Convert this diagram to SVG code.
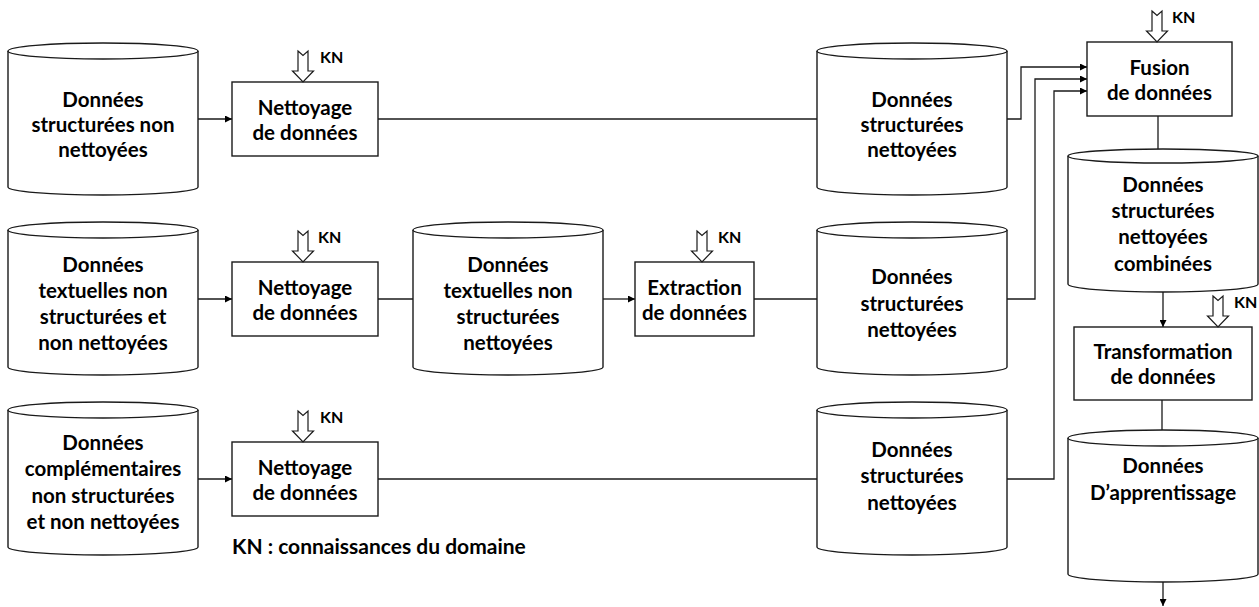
<svg xmlns="http://www.w3.org/2000/svg" width="1259" height="607" viewBox="0 0 1259 607">
  <style>
    .shape { fill: #ffffff; stroke: #1a1a1a; stroke-width: 1.4; }
    .lbl { font-family: Lato, "Liberation Sans", sans-serif; font-weight: bold; font-size: 20.5px; fill: #000; text-anchor: middle; }
    .kn { font-family: Lato, "Liberation Sans", sans-serif; font-weight: bold; font-size: 16px; fill: #000; }
    .cap { font-family: Lato, "Liberation Sans", sans-serif; font-weight: bold; font-size: 21px; fill: #000; }
    .wire { fill: none; stroke: #1a1a1a; stroke-width: 1.3; }
    .kna { fill: #ffffff; stroke: #1a1a1a; stroke-width: 1.2; stroke-linejoin: miter; }
  </style>
  <defs>
    <marker id="arr" viewBox="0 0 10 10" refX="10" refY="5" markerWidth="7" markerHeight="7" markerUnits="userSpaceOnUse" orient="auto">
      <path d="M0,0 L10,5 L0,10 Z" fill="#000"/>
    </marker>
    <!-- notched hollow arrow, tip at origin -->
    <path id="knArrow" class="kna" d="M-5,-31 L0,-26.5 L5,-31 L5,-11 L10.5,-11 L0,0 L-10.5,-11 L-5,-11 Z"/>
  </defs>

  <rect width="1259" height="607" fill="#ffffff"/>

  <!-- connectors -->
  <g id="connectors">
    <line class="wire" x1="198" y1="119" x2="232" y2="119" marker-end="url(#arr)"/>
    <line class="wire" x1="378" y1="119" x2="817" y2="119"/>
    <polyline class="wire" points="1007,119 1021,119 1021,67 1087,67" marker-end="url(#arr)"/>

    <line class="wire" x1="198" y1="299" x2="232" y2="299" marker-end="url(#arr)"/>
    <line class="wire" x1="378" y1="299" x2="413" y2="299"/>
    <line class="wire" x1="603" y1="299" x2="635" y2="299" marker-end="url(#arr)"/>
    <line class="wire" x1="754" y1="299" x2="817" y2="299"/>
    <polyline class="wire" points="1007,299 1035,299 1035,79 1087,79" marker-end="url(#arr)"/>

    <line class="wire" x1="198" y1="479" x2="232" y2="479" marker-end="url(#arr)"/>
    <line class="wire" x1="378" y1="479" x2="817" y2="479"/>
    <polyline class="wire" points="1007,479 1054,479 1054,91 1087,91" marker-end="url(#arr)"/>

    <line class="wire" x1="1158" y1="116" x2="1158" y2="150"/>
    <line class="wire" x1="1163" y1="292" x2="1163" y2="327" marker-end="url(#arr)"/>
    <line class="wire" x1="1162" y1="400" x2="1162" y2="431"/>
    <line class="wire" x1="1163" y1="582" x2="1163" y2="606" marker-end="url(#arr)"/>
  </g>

  <!-- row 1 -->
  <g id="raw-structured">
    <path class="shape" d="M8,51 L8,187 A95,8 0 0 0 198,187 L198,51"/>
    <ellipse class="shape" cx="103" cy="51" rx="95" ry="8"/>
    <text class="lbl" x="103" y="107">Données</text>
    <text class="lbl" x="103" y="132">structurées non</text>
    <text class="lbl" x="103" y="157">nettoyées</text>
  </g>
  <g id="cleaning-1">
    <rect class="shape" x="232" y="82" width="146" height="74"/>
    <text class="lbl" x="305" y="115">Nettoyage</text>
    <text class="lbl" x="305" y="140">de données</text>
    <use href="#knArrow" x="303" y="82"/>
    <text class="kn" x="320" y="63">KN</text>
  </g>
  <g id="clean-structured-1">
    <path class="shape" d="M817,51 L817,187 A95,8 0 0 0 1007,187 L1007,51"/>
    <ellipse class="shape" cx="912" cy="51" rx="95" ry="8"/>
    <text class="lbl" x="912" y="107">Données</text>
    <text class="lbl" x="912" y="132">structurées</text>
    <text class="lbl" x="912" y="157">nettoyées</text>
  </g>

  <!-- row 2 -->
  <g id="raw-text">
    <path class="shape" d="M8,230 L8,367 A95,8 0 0 0 198,367 L198,230"/>
    <ellipse class="shape" cx="103" cy="230" rx="95" ry="8"/>
    <text class="lbl" x="103" y="272">Données</text>
    <text class="lbl" x="103" y="298">textuelles non</text>
    <text class="lbl" x="103" y="324">structurées et</text>
    <text class="lbl" x="103" y="350">non nettoyées</text>
  </g>
  <g id="cleaning-2">
    <rect class="shape" x="232" y="262" width="146" height="74"/>
    <text class="lbl" x="305" y="295">Nettoyage</text>
    <text class="lbl" x="305" y="320">de données</text>
    <use href="#knArrow" x="303" y="262"/>
    <text class="kn" x="318" y="243">KN</text>
  </g>
  <g id="clean-text">
    <path class="shape" d="M413,230 L413,367 A95,8 0 0 0 603,367 L603,230"/>
    <ellipse class="shape" cx="508" cy="230" rx="95" ry="8"/>
    <text class="lbl" x="508" y="272">Données</text>
    <text class="lbl" x="508" y="298">textuelles non</text>
    <text class="lbl" x="508" y="324">structurées</text>
    <text class="lbl" x="508" y="350">nettoyées</text>
  </g>
  <g id="extraction">
    <rect class="shape" x="635" y="262" width="119" height="74"/>
    <text class="lbl" x="694.5" y="295">Extraction</text>
    <text class="lbl" x="694.5" y="320">de données</text>
    <use href="#knArrow" x="702" y="262"/>
    <text class="kn" x="718" y="243">KN</text>
  </g>
  <g id="clean-structured-2">
    <path class="shape" d="M817,230 L817,367 A95,8 0 0 0 1007,367 L1007,230"/>
    <ellipse class="shape" cx="912" cy="230" rx="95" ry="8"/>
    <text class="lbl" x="912" y="284">Données</text>
    <text class="lbl" x="912" y="311">structurées</text>
    <text class="lbl" x="912" y="337">nettoyées</text>
  </g>

  <!-- row 3 -->
  <g id="raw-complementary">
    <path class="shape" d="M8,410 L8,547 A95,8 0 0 0 198,547 L198,410"/>
    <ellipse class="shape" cx="103" cy="410" rx="95" ry="8"/>
    <text class="lbl" x="103" y="450">Données</text>
    <text class="lbl" x="103" y="476">complémentaires</text>
    <text class="lbl" x="103" y="503">non structurées</text>
    <text class="lbl" x="103" y="529">et non nettoyées</text>
  </g>
  <g id="cleaning-3">
    <rect class="shape" x="232" y="442" width="146" height="74"/>
    <text class="lbl" x="305" y="475">Nettoyage</text>
    <text class="lbl" x="305" y="500">de données</text>
    <use href="#knArrow" x="303" y="442"/>
    <text class="kn" x="320" y="423">KN</text>
  </g>
  <g id="clean-structured-3">
    <path class="shape" d="M817,410 L817,547 A95,8 0 0 0 1007,547 L1007,410"/>
    <ellipse class="shape" cx="912" cy="410" rx="95" ry="8"/>
    <text class="lbl" x="912" y="457">Données</text>
    <text class="lbl" x="912" y="483">structurées</text>
    <text class="lbl" x="912" y="510">nettoyées</text>
  </g>
  <text class="cap" x="232" y="554">KN : connaissances du domaine</text>

  <!-- right column -->
  <g id="fusion">
    <rect class="shape" x="1087" y="42" width="145" height="74"/>
    <text class="lbl" x="1159.5" y="75">Fusion</text>
    <text class="lbl" x="1159.5" y="100">de données</text>
    <use href="#knArrow" x="1157" y="42"/>
    <text class="kn" x="1172" y="23">KN</text>
  </g>
  <g id="combined">
    <path class="shape" d="M1068,156 L1068,284 A95,8 0 0 0 1258,284 L1258,156"/>
    <ellipse class="shape" cx="1163" cy="156" rx="95" ry="7"/>
    <text class="lbl" x="1163" y="192">Données</text>
    <text class="lbl" x="1163" y="218">structurées</text>
    <text class="lbl" x="1163" y="244">nettoyées</text>
    <text class="lbl" x="1163" y="271">combinées</text>
  </g>
  <g id="transformation">
    <rect class="shape" x="1074" y="327" width="178" height="73"/>
    <text class="lbl" x="1163" y="359">Transformation</text>
    <text class="lbl" x="1163" y="384">de données</text>
    <use href="#knArrow" x="1218" y="327"/>
    <text class="kn" x="1234" y="308">KN</text>
  </g>
  <g id="training">
    <path class="shape" d="M1068,438 L1068,574 A95,8 0 0 0 1258,574 L1258,438"/>
    <ellipse class="shape" cx="1163" cy="438" rx="95" ry="8"/>
    <text class="lbl" x="1163" y="473">Données</text>
    <text class="lbl" x="1163" y="500">D’apprentissage</text>
  </g>
</svg>
